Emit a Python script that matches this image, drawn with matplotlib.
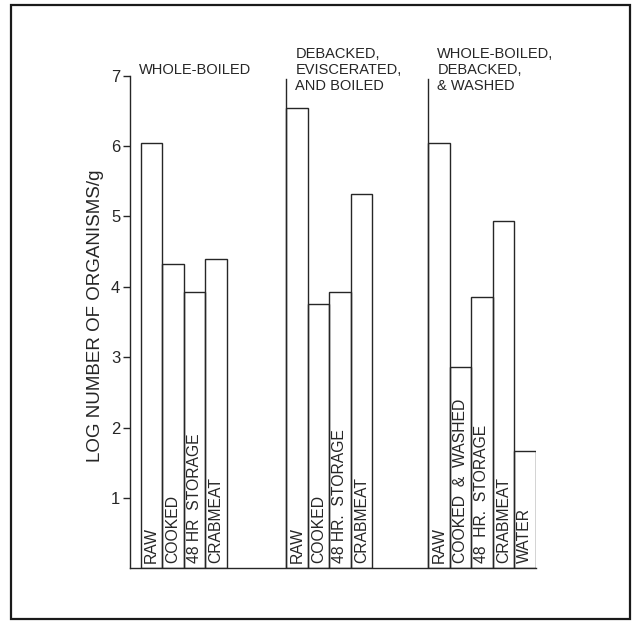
import matplotlib.pyplot as plt
from matplotlib.patches import Rectangle

# log counts per treatment group
group_titles = ['WHOLE-BOILED',
                'DEBACKED,\nEVISCERATED,\nAND BOILED',
                'WHOLE-BOILED,\nDEBACKED,\n& WASHED']
group1_labels = ['RAW', 'COOKED', '48 HR  STORAGE', 'CRABMEAT']
group1_values = [6.05, 4.32, 3.93, 4.40]
group2_labels = ['RAW', 'COOKED', '48 HR.  STORAGE', 'CRABMEAT']
group2_values = [6.54, 3.75, 3.93, 5.32]
group3_labels = ['RAW', 'COOKED  &  WASHED', '48  HR.  STORAGE', 'CRABMEAT', 'WATER']
group3_values = [6.05, 2.86, 3.85, 4.94, 1.67]
yticks = [1, 2, 3, 4, 5, 6, 7]

ink = '#262626'
plt.rcParams['font.family'] = ['Liberation Sans', 'DejaVu Sans']

fig = plt.figure(figsize=(6.32, 6.22), dpi=100)
ax = fig.add_axes([0.2057, 0.0863, 0.6424, 0.792])

group_starts = [0.5, 7.26, 13.86]
groups = [(group1_labels, group1_values),
          (group2_labels, group2_values),
          (group3_labels, group3_values)]

for gi, (labels, values) in enumerate(groups):
    x0 = group_starts[gi]
    lefts = [x0 + i for i in range(len(values))]
    ax.bar(lefts, values, width=1.0, align='edge', fill=False,
           edgecolor=ink, linewidth=1.0)
    for left, lab in zip(lefts, labels):
        ax.text(left + 0.5, 0.07, lab, rotation=90, ha='center', va='bottom',
                fontsize=11.3, color=ink)
    # divider line between groups
    if gi > 0:
        ax.plot([x0, x0], [0, 6.95], color=ink, lw=1.0)
    tx = x0 - 0.08 if gi == 0 else x0 + 0.43
    ax.text(tx, 7.08, group_titles[gi], ha='left', va='center', fontsize=10.5,
            color=ink, linespacing=1.15, clip_on=False)

ax.set_xlim(0, 18.88)
ax.set_ylim(0, 7)
ax.set_yticks(yticks)
ax.set_yticklabels([str(t) for t in yticks], fontsize=12, color=ink)
ax.set_xticks([])
ax.tick_params(axis='y', direction='out', length=5, width=1.0, color=ink, pad=2)
for side in ['top', 'right']:
    ax.spines[side].set_visible(False)
for side in ['left', 'bottom']:
    ax.spines[side].set_color(ink)
    ax.spines[side].set_linewidth(1.0)
ax.set_ylabel('LOG NUMBER OF ORGANISMS/g', fontsize=13.5, color=ink)
ax.yaxis.set_label_coords(-0.063, 0.512)

# frame around the whole figure
fig.patches.append(Rectangle((0.0174, 0.0048), 0.979, 0.987, transform=fig.transFigure,
                             fill=False, edgecolor='#1a1a1a', linewidth=1.6))

fig.savefig('out.png', dpi=100)
